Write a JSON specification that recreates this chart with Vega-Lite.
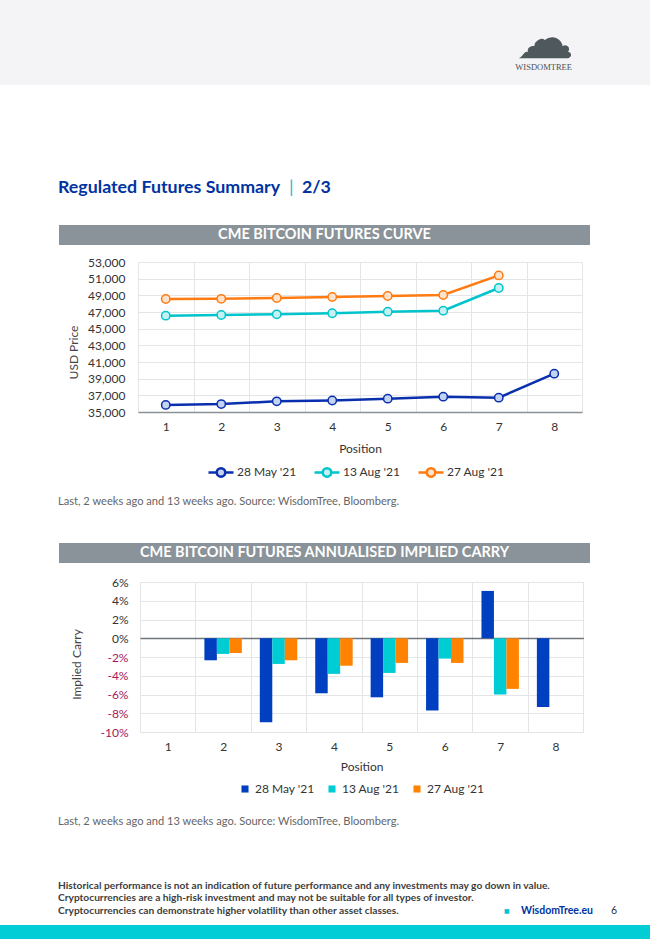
{
  "$schema": "https://vega.github.io/schema/vega-lite/v6.json",
  "padding": 0,
  "spacing": 0,
  "bounds": "flush",
  "background": "#ffffff",
  "config": {"view": {"stroke": null}, "font": "Lato"},
  "resolve": {
    "scale": {"color": "independent", "stroke": "independent", "fill": "independent", "x": "independent", "y": "independent"},
    "legend": {"color": "independent", "stroke": "independent", "fill": "independent"}
  },
  "vconcat": [
    {
      "width": 650, "height": 85,
      "view": {"fill": "#f4f4f6", "stroke": null},
      "data": {"values": [{}]},
      "title": {"text": "☁", "orient": "top", "anchor": "end", "frame": "group", "dx": -76, "offset": -70, "font": "DejaVu Sans", "fontSize": 58, "fontWeight": "normal", "color": "#4f585c"},
      "mark": {"type": "rect", "opacity": 0},
      "encoding": {}
    },
    {
      "width": 650, "height": 1,
      "data": {"values": [{}]},
      "title": {"text": "WISDOMTREE", "orient": "top", "anchor": "end", "frame": "group", "dx": -78, "offset": 14, "font": "Liberation Serif", "fontSize": 8.5, "fontWeight": "normal", "color": "#505050"},
      "mark": {"type": "rect", "opacity": 0},
      "encoding": {}
    },
    {
      "width": 650, "height": 139,
      "data": {"values": [{}]},
      "title": {"text": "|", "orient": "top", "anchor": "start", "frame": "group", "dx": 289, "offset": -111, "fontSize": 18, "fontWeight": "normal", "color": "#00c5d4"},
      "mark": {"type": "rect", "opacity": 0},
      "encoding": {}
    },
    {
      "width": 650, "height": 20,
      "data": {"values": [{"label": "CME BITCOIN FUTURES CURVE"}]},
      "title": {"text": "Regulated Futures Summary", "orient": "top", "anchor": "start", "frame": "group", "dx": 58, "offset": 28, "fontSize": 17.8, "fontWeight": "bold", "color": "#0033a1"},
      "layer": [
        {"mark": {"type": "rect", "color": "#8a9399"},
         "encoding": {"x": {"datum": 0, "type": "quantitative", "scale": {"domain": [0, 1], "range": [59, 590]}, "axis": null}, "x2": {"datum": 1}}},
        {"mark": {"type": "text", "color": "#ffffff", "fontWeight": "bold", "fontSize": 14.5, "baseline": "middle"},
         "encoding": {"x": {"datum": 0.5, "type": "quantitative"}, "text": {"field": "label"}}}
      ]
    },
    {
      "width": 650, "height": 17,
      "data": {"values": [{}]},
      "title": {"text": "2/3", "orient": "top", "anchor": "start", "frame": "group", "dx": 302, "offset": 48, "fontSize": 17.8, "fontWeight": "bold", "color": "#0033a1"},
      "mark": {"type": "rect", "opacity": 0},
      "encoding": {}
    },
    {
      "width": 650, "height": 150,
      "data": {"values": [
        {"position": 1, "series": "28 May '21", "price": 35850},
        {"position": 2, "series": "28 May '21", "price": 35950},
        {"position": 3, "series": "28 May '21", "price": 36280},
        {"position": 4, "series": "28 May '21", "price": 36380},
        {"position": 5, "series": "28 May '21", "price": 36600},
        {"position": 6, "series": "28 May '21", "price": 36840},
        {"position": 7, "series": "28 May '21", "price": 36720},
        {"position": 8, "series": "28 May '21", "price": 39600},
        {"position": 1, "series": "13 Aug '21", "price": 46560},
        {"position": 2, "series": "13 Aug '21", "price": 46640},
        {"position": 3, "series": "13 Aug '21", "price": 46720},
        {"position": 4, "series": "13 Aug '21", "price": 46850},
        {"position": 5, "series": "13 Aug '21", "price": 47040},
        {"position": 6, "series": "13 Aug '21", "price": 47160},
        {"position": 7, "series": "13 Aug '21", "price": 49880},
        {"position": 1, "series": "27 Aug '21", "price": 48560},
        {"position": 2, "series": "27 Aug '21", "price": 48580},
        {"position": 3, "series": "27 Aug '21", "price": 48680},
        {"position": 4, "series": "27 Aug '21", "price": 48800},
        {"position": 5, "series": "27 Aug '21", "price": 48920},
        {"position": 6, "series": "27 Aug '21", "price": 49040},
        {"position": 7, "series": "27 Aug '21", "price": 51390}
      ]},
      "encoding": {
        "x": {"field": "position", "type": "ordinal",
              "scale": {"type": "band", "domain": [1, 2, 3, 4, 5, 6, 7, 8], "range": [138, 582], "paddingInner": 0, "paddingOuter": 0},
              "axis": {"title": "Position", "labelAngle": 0, "labelFontSize": 12, "labelColor": "#333333", "labelPadding": 9, "ticks": false, "tickSize": 0, "tickBand": "extent", "grid": true, "gridColor": "#e3e5e7", "domainColor": "#8c9196", "domainWidth": 1.5, "titleFontSize": 12, "titleFontWeight": "normal", "titleColor": "#333333", "titlePadding": 11}},
        "y": {"field": "price", "type": "quantitative",
              "scale": {"domain": [35000, 53000], "nice": false, "zero": false},
              "axis": {"title": "USD Price", "values": [35000, 37000, 39000, 41000, 43000, 45000, 47000, 49000, 51000, 53000], "format": ",d", "offset": -138, "domain": false, "ticks": false, "tickSize": 0, "labelPadding": 13, "labelFontSize": 12, "labelColor": "#333333", "gridColor": "#e3e5e7", "titleFontSize": 12, "titleFontWeight": "normal", "titleColor": "#444444", "titleX": -65, "titleY": 90, "titleBaseline": "middle", "titleAngle": -90}},
        "stroke": {"field": "series", "type": "nominal",
                   "scale": {"domain": ["28 May '21", "13 Aug '21", "27 Aug '21"], "range": ["#0a2fae", "#00c4cc", "#ff7b12"]},
                   "legend": {"orient": "none", "legendX": 207, "legendY": 196, "direction": "horizontal", "title": null, "symbolType": "M-1,0L-0.34,0M0.34,0L1,0M-0.34,0A0.34,0.34,0,1,1,0.34,0A0.34,0.34,0,1,1,-0.34,0Z", "symbolSize": 625, "symbolStrokeWidth": 2.5, "symbolFillColor": "#ffffff", "labelFontSize": 12, "labelColor": "#333333", "labelOffset": 2, "columnPadding": 12}}
      },
      "layer": [
        {"mark": {"type": "line", "strokeWidth": 2.5}},
        {"mark": {"type": "point", "filled": true, "size": 70, "strokeWidth": 1.5, "opacity": 1, "fillOpacity": 1},
         "encoding": {"fill": {"field": "series", "type": "nominal", "scale": {"domain": ["28 May '21", "13 Aug '21", "27 Aug '21"], "range": ["#c3d3f0", "#c6f1f3", "#fde3cc"]}, "legend": null}}}
      ]
    },
    {
      "width": 650, "height": 131,
      "data": {"values": [{}]},
      "mark": {"type": "rect", "opacity": 0},
      "encoding": {}
    },
    {
      "width": 650, "height": 20,
      "data": {"values": [{"label": "CME BITCOIN FUTURES ANNUALISED IMPLIED CARRY"}]},
      "title": {"text": "Last, 2 weeks ago and 13 weeks ago. Source: WisdomTree, Bloomberg.", "orient": "top", "anchor": "start", "frame": "group", "dx": 58, "offset": 36, "fontSize": 11.1, "fontWeight": "normal", "color": "#666666"},
      "layer": [
        {"mark": {"type": "rect", "color": "#8a9399"},
         "encoding": {"x": {"datum": 0, "type": "quantitative", "scale": {"domain": [0, 1], "range": [59, 590]}, "axis": null}, "x2": {"datum": 1}}},
        {"mark": {"type": "text", "color": "#ffffff", "fontWeight": "bold", "fontSize": 14.5, "baseline": "middle"},
         "encoding": {"x": {"datum": 0.5, "type": "quantitative"}, "text": {"field": "label"}}}
      ]
    },
    {
      "width": 650, "height": 19,
      "data": {"values": [{}]},
      "mark": {"type": "rect", "opacity": 0},
      "encoding": {}
    },
    {
      "width": 650, "height": 150,
      "data": {"values": [
        {"position": 2, "series": "28 May '21", "carry": -0.0235},
        {"position": 2, "series": "13 Aug '21", "carry": -0.0167},
        {"position": 2, "series": "27 Aug '21", "carry": -0.0156},
        {"position": 3, "series": "28 May '21", "carry": -0.0896},
        {"position": 3, "series": "13 Aug '21", "carry": -0.0274},
        {"position": 3, "series": "27 Aug '21", "carry": -0.0235},
        {"position": 4, "series": "28 May '21", "carry": -0.0587},
        {"position": 4, "series": "13 Aug '21", "carry": -0.0380},
        {"position": 4, "series": "27 Aug '21", "carry": -0.0293},
        {"position": 5, "series": "28 May '21", "carry": -0.0630},
        {"position": 5, "series": "13 Aug '21", "carry": -0.0370},
        {"position": 5, "series": "27 Aug '21", "carry": -0.0263},
        {"position": 6, "series": "28 May '21", "carry": -0.0771},
        {"position": 6, "series": "13 Aug '21", "carry": -0.0217},
        {"position": 6, "series": "27 Aug '21", "carry": -0.0263},
        {"position": 7, "series": "28 May '21", "carry": 0.0505},
        {"position": 7, "series": "13 Aug '21", "carry": -0.0600},
        {"position": 7, "series": "27 Aug '21", "carry": -0.0540},
        {"position": 8, "series": "28 May '21", "carry": -0.0733}
      ]},
      "mark": {"type": "bar"},
      "encoding": {
        "x": {"field": "position", "type": "ordinal",
              "scale": {"type": "band", "domain": [1, 2, 3, 4, 5, 6, 7, 8], "range": [140, 583.3], "paddingInner": 0, "paddingOuter": 0},
              "axis": {"title": "Position", "labelAngle": 0, "labelFontSize": 12, "labelColor": "#333333", "labelPadding": 9, "ticks": false, "tickSize": 0, "tickBand": "extent", "grid": true, "gridColor": "#e3e5e7", "domainColor": "#e3e5e7", "domainWidth": 1, "titleFontSize": 12, "titleFontWeight": "normal", "titleColor": "#333333", "titlePadding": 9}},
        "xOffset": {"field": "series", "type": "nominal", "scale": {"domain": ["28 May '21", "13 Aug '21", "27 Aug '21"], "paddingInner": 0, "paddingOuter": 0.72}},
        "y": {"field": "carry", "type": "quantitative",
              "scale": {"domain": [-0.1, 0.06], "nice": false, "zero": false},
              "axis": {"title": "Implied Carry", "values": [-0.1, -0.08, -0.06, -0.04, -0.02, 0, 0.02, 0.04, 0.06],
                       "labelExpr": "(datum.value < 0 ? '-' : '') + format(abs(datum.value), '.0%')",
                       "offset": -140, "domain": false, "ticks": false, "tickSize": 0, "labelPadding": 12, "labelFontSize": 12,
                       "labelColor": {"condition": {"test": "datum.value < 0", "value": "#a8175c"}, "value": "#333333"},
                       "gridColor": {"condition": {"test": "datum.value === 0", "value": "#6e767b"}, "value": "#e3e5e7"},
                       "gridWidth": {"condition": {"test": "datum.value === 0", "value": 1.5}, "value": 1},
                       "titleFontSize": 12, "titleFontWeight": "normal", "titleColor": "#444444", "titleX": -64, "titleY": 82, "titleBaseline": "middle", "titleAngle": -90}},
        "color": {"field": "series", "type": "nominal",
                  "scale": {"domain": ["28 May '21", "13 Aug '21", "27 Aug '21"], "range": ["#0040c0", "#00ccd3", "#ff8200"]},
                  "legend": {"orient": "none", "legendX": 239, "legendY": 201, "direction": "horizontal", "title": null, "symbolType": "square", "symbolSize": 50, "labelFontSize": 12, "labelColor": "#333333", "labelOffset": 4, "columnPadding": 11}}
      }
    },
    {
      "width": 650, "height": 98,
      "data": {"values": [{}]},
      "mark": {"type": "rect", "opacity": 0},
      "encoding": {}
    },
    {
      "width": 650, "height": 92,
      "data": {"values": [{}]},
      "title": {"text": "Last, 2 weeks ago and 13 weeks ago. Source: WisdomTree, Bloomberg.", "orient": "top", "anchor": "start", "frame": "group", "dx": 58, "offset": 3, "fontSize": 11.1, "fontWeight": "normal", "color": "#666666"},
      "mark": {"type": "rect", "opacity": 0},
      "encoding": {}
    },
    {
      "width": 650, "height": 1,
      "data": {"values": [{}]},
      "title": {"text": "WisdomTree.eu", "orient": "top", "anchor": "end", "frame": "group", "dx": -57, "offset": 6, "fontSize": 10.5, "fontWeight": "bold", "color": "#0033a1"},
      "mark": {"type": "rect", "opacity": 0},
      "encoding": {}
    },
    {
      "width": 650, "height": 1,
      "data": {"values": [{}]},
      "title": {"text": "6", "orient": "top", "anchor": "end", "frame": "group", "dx": -33, "offset": 7, "fontSize": 10.5, "fontWeight": "normal", "color": "#333333"},
      "mark": {"type": "rect", "opacity": 0},
      "encoding": {}
    },
    {
      "width": 650, "height": 1,
      "data": {"values": [{}]},
      "title": {"text": "■", "orient": "top", "anchor": "start", "frame": "group", "dx": 504, "offset": 10, "font": "DejaVu Sans", "fontSize": 6, "fontWeight": "normal", "color": "#00c5d4"},
      "mark": {"type": "rect", "opacity": 0},
      "encoding": {}
    },
    {
      "width": 650, "height": 14,
      "view": {"fill": "#00cdd5", "stroke": null},
      "data": {"values": [{}]},
      "title": {"text": ["Historical performance is not an indication of future performance and any investments may go down in value.", "Cryptocurrencies are a high-risk investment and may not be suitable for all types of investor.", "Cryptocurrencies can demonstrate higher volatility than other asset classes."], "orient": "top", "anchor": "start", "frame": "group", "dx": 58, "offset": 9, "fontSize": 10.2, "lineHeight": 12.5, "fontWeight": "bold", "color": "#3d3d3d"},
      "mark": {"type": "rect", "opacity": 0},
      "encoding": {}
    }
  ]
}
